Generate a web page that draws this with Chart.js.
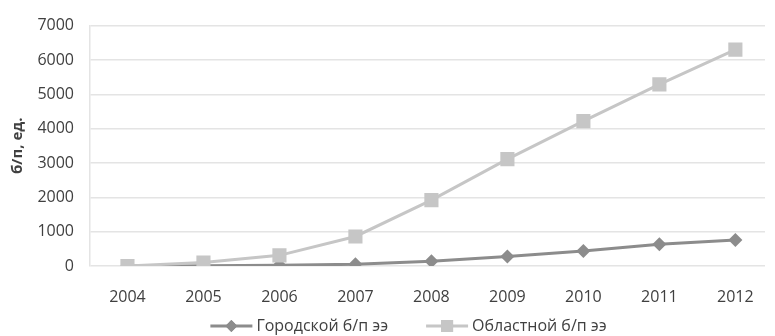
<!DOCTYPE html>
<html>
<head>
<meta charset="utf-8">
<script src="https://cdn.jsdelivr.net/npm/chart.js@4"></script>
<style>
  html, body { margin: 0; padding: 0; background: #fff; }
  #wrap { width: 775px; height: 336px; position: relative; }
</style>
</head>
<body>
<div id="wrap"><canvas id="chart" width="775" height="336"></canvas></div>
<script>
const years = [2004, 2005, 2006, 2007, 2008, 2009, 2010, 2011, 2012];
const gorodskoy = [0, 5, 20, 50, 140, 280, 440, 630, 760];
const oblastnoy = [0, 100, 310, 860, 1920, 3110, 4220, 5290, 6300];
const yTicks = [0, 1000, 2000, 3000, 4000, 5000, 6000, 7000];

const FONT = '"Open Sans", "DejaVu Sans", sans-serif';
const TEXT = '#404040';

// the regional series sits on top where the two meet
const series = [
  { label: 'Городской б/п ээ', values: gorodskoy, color: '#8c8c8c', marker: 'rectRot', radius: 7, order: 1 },
  { label: 'Областной б/п ээ', values: oblastnoy, color: '#c6c6c6', marker: 'rect', radius: 10, order: 0 },
];

// legend drawn by hand: line with the marker in its middle, then the text
const bottomLegend = {
  id: 'bottomLegend',
  afterDraw(chart) {
    const ctx = chart.ctx;
    const y = 326;
    const lineW = 42;
    const gap = 4;
    const spacing = 38;
    ctx.save();
    ctx.font = '16px ' + FONT;
    const widths = series.map((s) => lineW + gap + ctx.measureText(s.label).width);
    const total = widths.reduce((a, b) => a + b, 0) + spacing * (series.length - 1);
    let x = (chart.width - total) / 2 + 21;
    series.forEach((s, i) => {
      ctx.strokeStyle = s.color;
      ctx.lineWidth = 3;
      ctx.beginPath();
      ctx.moveTo(x, y);
      ctx.lineTo(x + lineW, y);
      ctx.stroke();
      ctx.fillStyle = s.color;
      Chart.helpers.drawPoint(ctx, { pointStyle: s.marker, radius: s.radius * 0.85, rotation: 0, borderWidth: 0 }, x + lineW / 2, y);
      ctx.fill();
      ctx.fillStyle = TEXT;
      ctx.textBaseline = 'middle';
      ctx.textAlign = 'left';
      ctx.fillText(s.label, x + lineW + gap, y);
      x += widths[i] + spacing;
    });
    ctx.restore();
  },
};

new Chart(document.getElementById('chart').getContext('2d'), {
  type: 'line',
  data: {
    datasets: series.map((s) => ({
      label: s.label,
      data: years.map((yr, i) => ({ x: yr, y: s.values[i] })),
      order: s.order,
      borderColor: s.color,
      backgroundColor: s.color,
      borderWidth: 3,
      pointStyle: s.marker,
      pointRadius: s.radius,
      pointHoverRadius: s.radius,
      pointBorderWidth: 0,
      tension: 0,
    })),
  },
  options: {
    responsive: false,
    animation: false,
    layout: { padding: { top: 18, left: 0, right: 0, bottom: 0 } },
    scales: {
      x: {
        type: 'linear',
        min: 2003.507,
        max: 2012.39,
        grid: { display: false },
        border: { display: false },
        afterBuildTicks(scale) {
          scale.ticks = years.map((v) => ({ value: v }));
        },
        afterFit(scale) {
          scale.height = 70;
        },
        ticks: {
          padding: 14,
          color: TEXT,
          font: { family: FONT, size: 16 },
          callback: (value) => String(value),
          maxRotation: 0,
        },
      },
      y: {
        min: 0,
        max: 7000,
        afterBuildTicks(scale) {
          scale.ticks = yTicks.map((v) => ({ value: v }));
        },
        afterFit(scale) {
          scale.width = 90;
        },
        grid: { color: '#e4e4e4', lineWidth: 1.5, drawTicks: false },
        border: { color: '#e4e4e4', width: 1.5 },
        ticks: {
          padding: 16,
          color: TEXT,
          font: { family: FONT, size: 16 },
          callback: (value) => String(value),
        },
        title: {
          display: true,
          text: 'б/п, ед.',
          color: TEXT,
          font: { family: FONT, size: 15, weight: 'bold' },
          padding: { top: 9, bottom: 0 },
        },
      },
    },
    plugins: {
      legend: { display: false },
      tooltip: { enabled: false },
    },
  },
  plugins: [bottomLegend],
});
</script>
</body>
</html>
